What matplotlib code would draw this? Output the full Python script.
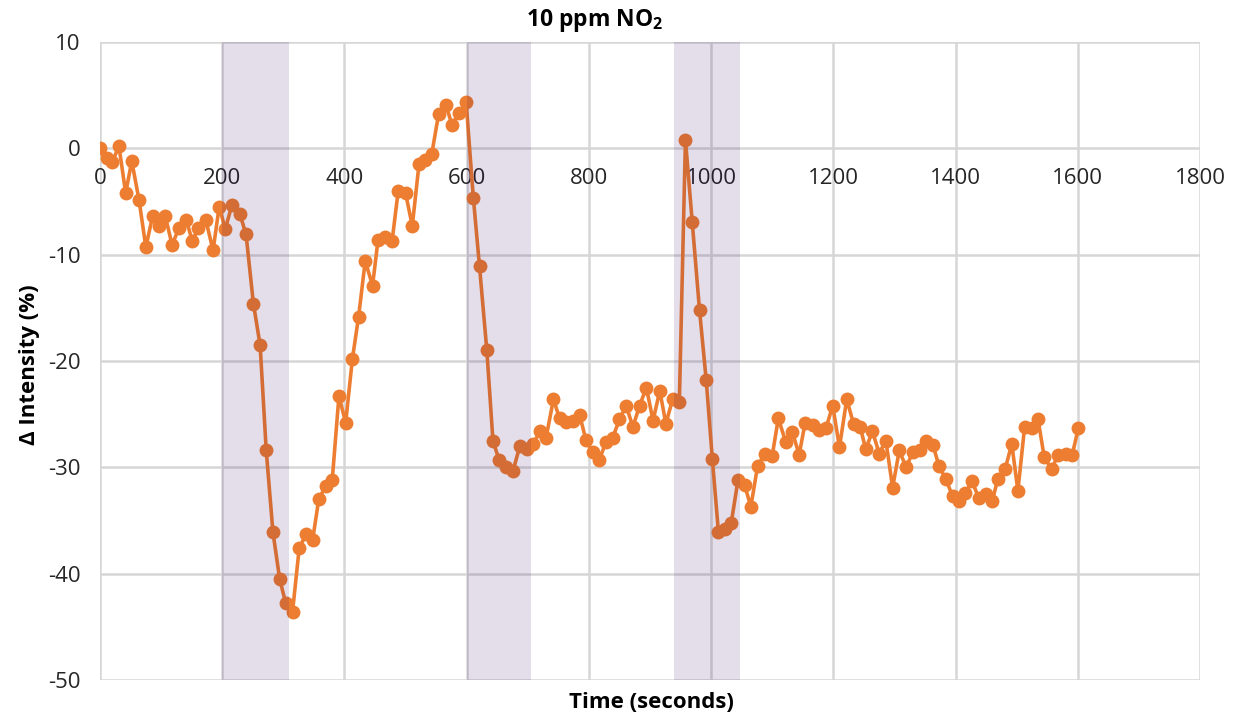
import matplotlib
matplotlib.use("Agg")
import matplotlib.pyplot as plt

plt.rcParams['font.family'] = ['Open Sans', 'DejaVu Sans']
plt.rcParams['mathtext.fontset'] = 'custom'
plt.rcParams['mathtext.rm'] = 'Open Sans'
plt.rcParams['mathtext.bf'] = 'Open Sans:bold'
plt.rcParams['axes.unicode_minus'] = False

# Time (s) and change in intensity (%)
time_s = [
    0, 11, 20, 31, 42, 52, 64, 75, 86, 96, 107, 118, 129, 141, 151, 161, 173, 185,
    195, 205, 216, 229, 239,
    251, 262, 272, 283, 294, 304, 315, 326, 337, 348, 358, 369, 380, 391, 402, 413,
    423, 434, 446, 455, 467, 478, 488, 500, 511, 522, 532, 543, 554, 566, 576, 588, 599,
    611, 621, 633, 643, 653, 664, 676, 687, 698, 709, 720, 730, 742, 752, 763, 774,
    785, 795, 806, 817, 828, 839, 850, 861, 872, 883, 894, 905, 916, 926, 937, 948,
    958, 969, 981, 992, 1002, 1012, 1022, 1033, 1044, 1055, 1065, 1076, 1088, 1100,
    1110, 1122, 1133, 1144, 1154, 1166, 1176, 1188, 1199, 1210, 1222, 1233, 1244,
    1253, 1264, 1275, 1286, 1297, 1308, 1319, 1330, 1341, 1352, 1363, 1373, 1384,
    1395, 1405, 1416, 1427, 1438, 1449, 1460, 1469, 1481, 1492, 1502, 1513, 1525,
    1535, 1545, 1557, 1568, 1580, 1591, 1601,
]
delta_intensity = [
    0.0, -0.9, -1.3, 0.2, -4.2, -1.2, -4.9, -9.3, -6.4, -7.3, -6.4, -9.1, -7.5, -6.7,
    -8.7, -7.5, -6.7, -9.6, -5.5, -7.6, -5.3, -6.2, -8.1,
    -14.6, -18.5, -28.4, -36.1, -40.5, -42.8, -43.6, -37.6, -36.3, -36.8, -33.0,
    -31.8, -31.2, -23.3, -25.8, -19.8, -15.9, -10.6, -12.9, -8.6, -8.3, -8.7, -4.0,
    -4.2, -7.3, -1.5, -1.1, -0.5, 3.2, 4.1, 2.2, 3.3, 4.4,
    -4.7, -11.1, -19.0, -27.5, -29.3, -30.0, -30.3, -28.0, -28.3, -27.8, -26.6,
    -27.2, -23.6, -25.4, -25.7, -25.6, -25.1, -27.4, -28.6, -29.3, -27.6, -27.2,
    -25.5, -24.2, -26.2, -24.2, -22.5, -25.6, -22.8, -25.9, -23.6, -23.9,
    0.8, -6.9, -15.2, -21.8, -29.2, -36.1, -35.8, -35.2, -31.2, -31.7, -33.7, -29.9,
    -28.7, -28.9, -25.4, -27.6, -26.7, -28.8, -25.8, -26.0, -26.5, -26.3, -24.2,
    -28.1, -23.6, -25.9, -26.2, -28.3, -26.6, -28.7, -27.5, -31.9, -28.4, -30.0,
    -28.6, -28.4, -27.5, -27.9, -29.9, -31.1, -32.7, -33.2, -32.4, -31.3, -32.9,
    -32.5, -33.2, -31.1, -30.2, -27.8, -32.2, -26.2, -26.3, -25.5, -29.0, -30.2,
    -28.8, -28.7, -28.8, -26.3,
]

# Gas exposure windows (s)
exposure_windows = [(200, 310), (600, 706), (940, 1048)]

x_ticks = [0, 200, 400, 600, 800, 1000, 1200, 1400, 1600, 1800]
y_ticks = [-50, -40, -30, -20, -10, 0, 10]

W, H = 1235, 719
fig = plt.figure(figsize=(W / 100, H / 100), dpi=100)
ax = fig.add_axes([100 / W, 1 - 680 / H, 1100 / W, 638 / H])

ax.set_xlim(0, 1800)
ax.set_ylim(-50, 10)
ax.set_xticks(x_ticks)
ax.set_yticks(y_ticks)

grid_col = '#D6D6D6'
ax.grid(True, color=grid_col, linewidth=1.8)
ax.set_axisbelow(True)
for s in ax.spines.values():
    s.set_visible(False)

# x tick labels sit just under the zero line
ax.spines['bottom'].set_position(('data', 0))
ax.tick_params(axis='x', length=0, pad=14, labelsize=16, colors='#262626')
ax.tick_params(axis='y', length=0, pad=14, labelsize=16, colors='#262626')

ax.plot(time_s, delta_intensity, color='#ED7D31', linewidth=2.6, marker='o',
        markersize=10, markeredgewidth=0, zorder=3)

# Tinted exposure windows laid over grid and data
for start, end in exposure_windows:
    ax.axvspan(start, end, color='#30005D', alpha=0.13, linewidth=0, zorder=4)

fig.text(595 / W, 1 - 21 / H, r'10 ppm NO$_\mathbf{2}$', ha='center', va='center',
         fontsize=16.5, fontweight='bold', color='#000000')
fig.text(651 / W, 1 - 703 / H, 'Time (seconds)', ha='center', va='center',
         fontsize=16, fontweight='bold', color='#000000')
fig.text(30 / W, 1 - 365 / H, 'Δ Intensity (%)', ha='center', va='center',
         rotation=90, fontsize=16, fontweight='bold', color='#000000')

fig.savefig('out.png', dpi=100)
